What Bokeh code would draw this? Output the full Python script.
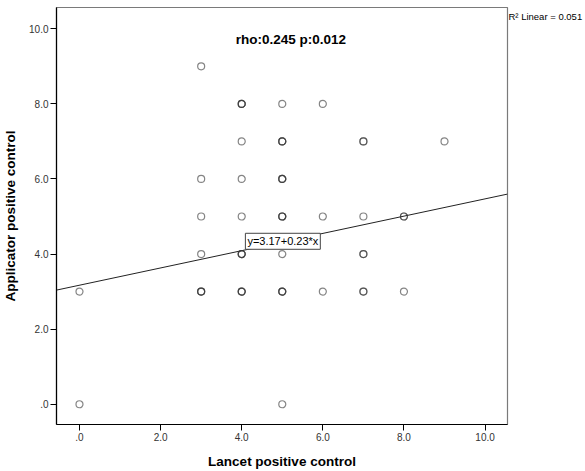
from bokeh.plotting import figure
from bokeh.models import Label, FixedTicker, Range1d, LinearAxis
from bokeh.embed import file_html
from bokeh.resources import INLINE

# Data (repeated pairs = overlapping cases)
lancet = [0, 0,
          3, 3, 3, 3, 3, 3, 3,
          4, 4, 4, 4, 4, 4, 4, 4, 4, 4, 4, 4,
          5, 5, 5, 5, 5, 5, 5, 5, 5, 5, 5, 5, 5, 5, 5,
          6, 6, 6,
          7, 7, 7, 7, 7, 7, 7,
          8, 8, 8,
          9]
applicator = [0, 3,
              9, 6, 5, 4, 3, 3, 3,
              8, 8, 8, 7, 6, 5, 4, 4, 4, 3, 3, 3,
              8, 7, 7, 7, 6, 6, 6, 5, 5, 5, 4, 3, 3, 3, 0,
              8, 5, 3,
              7, 7, 5, 4, 4, 3, 3,
              5, 5, 3,
              7]
intercept = 3.17
slope = 0.23
ticks = [0, 2, 4, 6, 8, 10]
tick_labels = [".0", "2.0", "4.0", "6.0", "8.0", "10.0"]
title_text = "rho:0.245 p:0.012"
eq_text = "y=3.17+0.23*x"
r2_text = "R\u00b2 Linear = 0.051"
r2_y = 10.32

x0, x1 = -0.567, 10.553
y0, y1 = -0.54, 10.567

p = figure(width=585, height=471, output_backend="svg", toolbar_location=None,
           x_range=Range1d(x0, x1), y_range=Range1d(y0, y1),
           min_border_left=56, min_border_right=78, min_border_top=7, min_border_bottom=47)
p.grid.visible = False
p.outline_line_color = "#7a7a7a"
p.outline_line_width = 1.2
p.background_fill_color = "white"
p.border_fill_color = "white"

font = "Liberation Sans"
for ax, lab in ((p.xaxis[0], "Lancet positive control"), (p.yaxis[0], "Applicator positive control")):
    ax.ticker = FixedTicker(ticks=ticks, minor_ticks=[])
    ax.major_label_overrides = {t: l for t, l in zip(ticks, tick_labels)}
    ax.axis_label = lab
    ax.axis_label_text_font = font
    ax.axis_label_text_font_style = "bold"
    ax.axis_label_text_font_size = "13.5px"
    ax.axis_label_text_color = "black"
    ax.major_label_text_font = font
    ax.major_label_text_font_size = "10px"
    ax.major_label_text_color = "#333333"
    ax.major_tick_out = 6
    ax.major_tick_in = 0
    ax.minor_tick_out = 0
    ax.minor_tick_in = 0
    ax.axis_line_color = "black"
    ax.axis_line_width = 1.2
    ax.major_tick_line_color = "black"
    ax.major_label_standoff = 2
p.yaxis[0].axis_label_standoff = 8
p.xaxis[0].axis_label_standoff = 10

# R² note placed to the right of the frame
r2_axis = LinearAxis(ticker=FixedTicker(ticks=[r2_y], minor_ticks=[]),
                     major_label_overrides={r2_y: r2_text},
                     axis_line_color=None, major_tick_line_color=None,
                     major_tick_out=0, major_tick_in=0, minor_tick_out=0, minor_tick_in=0,
                     major_label_standoff=1, major_label_text_font=font,
                     major_label_text_font_size="9.5px", major_label_text_color="black")
p.add_layout(r2_axis, "right")

p.line([x0, x1], [intercept + slope * x0, intercept + slope * x1], line_color="#222222", line_width=1)

p.scatter(lancet, applicator, size=7, marker="circle", fill_color=None,
          line_color="#333333", line_alpha=0.6, line_width=1.2)

p.add_layout(Label(x=5.21, y=9.72, text=title_text, text_align="center", text_baseline="middle",
                   text_font=font, text_font_style="bold", text_font_size="13.5px", text_color="black"))
p.add_layout(Label(x=4.09, y=4.34, text=eq_text, text_align="left", text_baseline="middle",
                   text_font=font, text_font_size="11px", text_color="black",
                   background_fill_color="white", border_line_color="#444444", padding=2))

open("out.html", "w").write(file_html(p, INLINE))
